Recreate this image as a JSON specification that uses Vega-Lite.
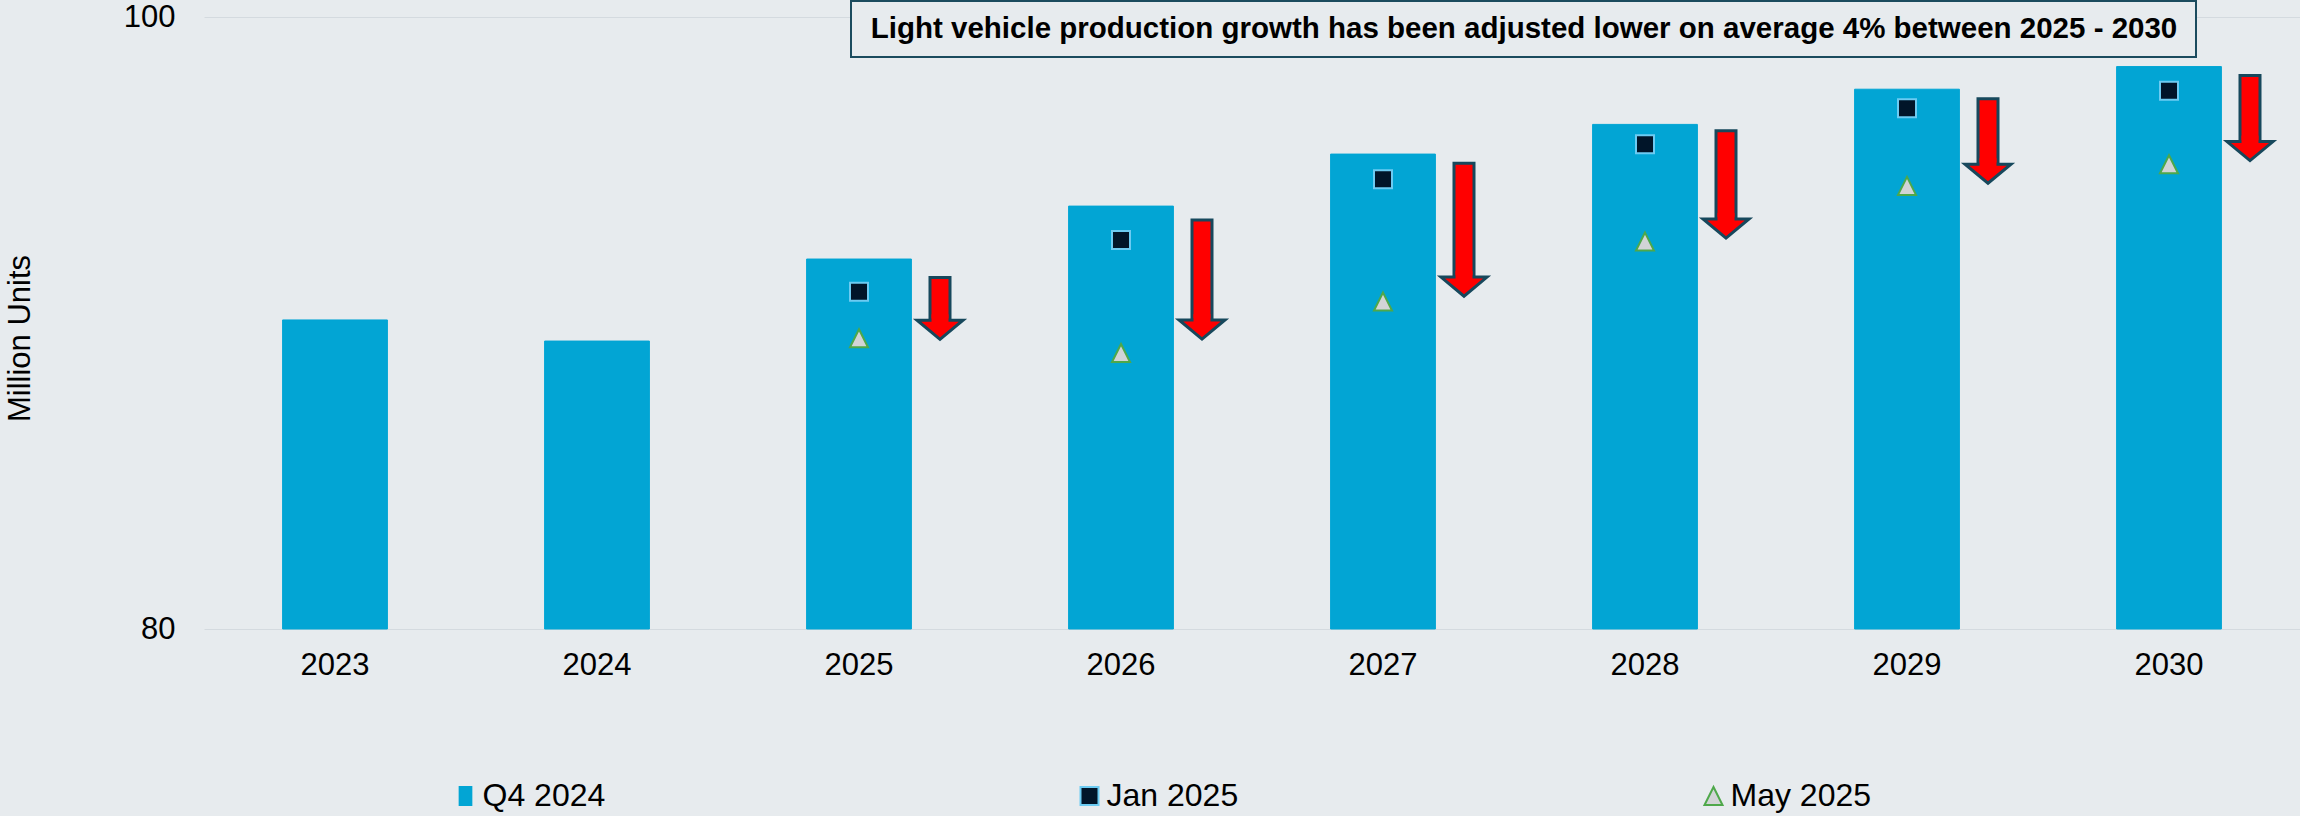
{
  "$schema": "https://vega.github.io/schema/vega-lite/v6.json",
  "width": 2096,
  "height": 612,
  "autosize": {"type": "none"},
  "padding": {"left": 204, "top": 17, "right": 0, "bottom": 187},
  "background": "#e7ebee",
  "config": {
    "view": {"stroke": null},
    "font": "Liberation Sans",
    "axis": {"labelColor": "#000000", "titleColor": "#000000", "domain": false, "ticks": false},
    "legend": {
      "orient": "none",
      "legendX": 245.5,
      "legendY": 763,
      "direction": "horizontal",
      "columns": 3,
      "gridAlign": "all",
      "columnPadding": 450,
      "labelFontSize": 32,
      "labelColor": "#000000",
      "labelOffset": 1,
      "symbolSize": 324,
      "symbolStrokeWidth": 2,
      "symbolOpacity": 1,
      "title": null
    }
  },
  "datasets": {
    "production": [
      {"year": 2023, "series": "Q4 2024", "value": 90.10},
      {"year": 2024, "series": "Q4 2024", "value": 89.41},
      {"year": 2025, "series": "Q4 2024", "value": 92.09},
      {"year": 2026, "series": "Q4 2024", "value": 93.82},
      {"year": 2027, "series": "Q4 2024", "value": 95.52},
      {"year": 2028, "series": "Q4 2024", "value": 96.49},
      {"year": 2029, "series": "Q4 2024", "value": 97.64},
      {"year": 2030, "series": "Q4 2024", "value": 98.38},
      {"year": 2025, "series": "Jan 2025", "value": 91.02},
      {"year": 2026, "series": "Jan 2025", "value": 92.71},
      {"year": 2027, "series": "Jan 2025", "value": 94.70},
      {"year": 2028, "series": "Jan 2025", "value": 95.84},
      {"year": 2029, "series": "Jan 2025", "value": 97.02},
      {"year": 2030, "series": "Jan 2025", "value": 97.59},
      {"year": 2025, "series": "May 2025", "value": 89.50},
      {"year": 2026, "series": "May 2025", "value": 89.02},
      {"year": 2027, "series": "May 2025", "value": 90.70},
      {"year": 2028, "series": "May 2025", "value": 92.66},
      {"year": 2029, "series": "May 2025", "value": 94.48},
      {"year": 2030, "series": "May 2025", "value": 95.19}
    ],
    "arrows": [
      {"year": 2025, "top": 91.49, "head": 90.09},
      {"year": 2026, "top": 93.37, "head": 90.10},
      {"year": 2027, "top": 95.22, "head": 91.50},
      {"year": 2028, "top": 96.28, "head": 93.40},
      {"year": 2029, "top": 97.33, "head": 95.19},
      {"year": 2030, "top": 98.09, "head": 95.93}
    ],
    "note": [
      {"year": 2025, "year_end": 2030, "label_year": 2027, "box_top": 100.52, "box_bottom": 98.69, "text_base": 99.32, "note": "Light vehicle production growth has been adjusted lower on average 4% between 2025 - 2030"}
    ]
  },
  "encoding": {
    "x": {
      "field": "year",
      "type": "ordinal",
      "title": null,
      "scale": {"type": "band", "domain": [2023, 2024, 2025, 2026, 2027, 2028, 2029, 2030], "paddingInner": 0.6, "paddingOuter": 0.3},
      "axis": {"labelFontSize": 31, "labelPadding": 21, "labelAngle": 0, "grid": false}
    },
    "y": {
      "field": "value",
      "type": "quantitative",
      "title": "Million Units",
      "scale": {"domain": [80, 100], "zero": false, "nice": false},
      "axis": {
        "values": [80, 100],
        "grid": true,
        "gridColor": "#d4dadf",
        "gridWidth": 1,
        "labelFontSize": 31,
        "labelPadding": 29,
        "titleFontSize": 31,
        "titleFontWeight": "normal",
        "titleAngle": -90,
        "titleX": -184,
        "titleY": 321,
        "titleAlign": "center",
        "titleBaseline": "middle"
      }
    }
  },
  "layer": [
    {
      "data": {"name": "note"},
      "mark": {"type": "rect", "fill": "#e7ebee", "stroke": "#1b4b5e", "strokeWidth": 2, "xOffset": -8, "x2Offset": 27},
      "encoding": {
        "x": {"field": "year", "type": "ordinal"},
        "x2": {"field": "year_end"},
        "y": {"field": "box_top", "type": "quantitative", "title": "Million Units"},
        "y2": {"field": "box_bottom"}
      }
    },
    {
      "data": {"name": "note"},
      "mark": {"type": "text", "fontSize": 29.5, "fontWeight": "bold", "fill": "#000000", "align": "center", "baseline": "alphabetic", "xOffset": 141},
      "encoding": {
        "x": {"field": "label_year", "type": "ordinal", "title": null},
        "y": {"field": "text_base", "type": "quantitative", "title": "Million Units"},
        "text": {"field": "note"}
      }
    },
    {
      "data": {"name": "production"},
      "transform": [{"filter": "datum.series === 'Q4 2024'"}],
      "mark": {"type": "bar", "stroke": "#4fbfe8", "strokeWidth": 1},
      "encoding": {
        "y2": {"datum": 80},
        "fill": {
          "field": "series",
          "type": "nominal",
          "scale": {"domain": ["Q4 2024", "Jan 2025", "May 2025"], "range": ["#02a5d4", "#011529", "#d2d4d6"]}
        },
        "stroke": {
          "field": "series",
          "type": "nominal",
          "scale": {"domain": ["Q4 2024", "Jan 2025", "May 2025"], "range": ["#02a5d4", "#6ccbf2", "#4ea84a"]}
        }
      }
    },
    {
      "data": {"name": "production"},
      "transform": [{"filter": "datum.series !== 'Q4 2024'"}],
      "mark": {"type": "point", "size": 324, "strokeWidth": 2, "opacity": 1, "filled": true},
      "encoding": {
        "fill": {"field": "series", "type": "nominal"},
        "stroke": {"field": "series", "type": "nominal"},
        "shape": {
          "field": "series",
          "type": "nominal",
          "scale": {"domain": ["Q4 2024", "Jan 2025", "May 2025"], "range": ["M-0.65,-1H0.65V1H-0.65Z", "square", "M0,-1L1,1H-1Z"]}
        }
      }
    },
    {
      "data": {"name": "arrows"},
      "mark": {"type": "bar", "width": 20, "fill": "#ff0000", "stroke": "#17485c", "strokeWidth": 3, "xOffset": 81},
      "encoding": {
        "y": {"field": "top", "type": "quantitative", "title": "Million Units"},
        "y2": {"field": "head"}
      }
    },
    {
      "data": {"name": "arrows"},
      "mark": {"type": "point", "shape": "M-1,0L1,0L0,0.83Z", "size": 2116, "fill": "#ff0000", "stroke": "#17485c", "strokeWidth": 3, "opacity": 1, "filled": true, "xOffset": 81},
      "encoding": {
        "y": {"field": "head", "type": "quantitative", "title": "Million Units"}
      }
    },
    {
      "data": {"name": "arrows"},
      "mark": {"type": "bar", "width": 17, "fill": "#ff0000", "strokeWidth": 0, "xOffset": 81, "yOffset": -6, "y2Offset": 3},
      "encoding": {
        "y": {"field": "head", "type": "quantitative", "title": "Million Units"},
        "y2": {"field": "head"}
      }
    }
  ]
}
